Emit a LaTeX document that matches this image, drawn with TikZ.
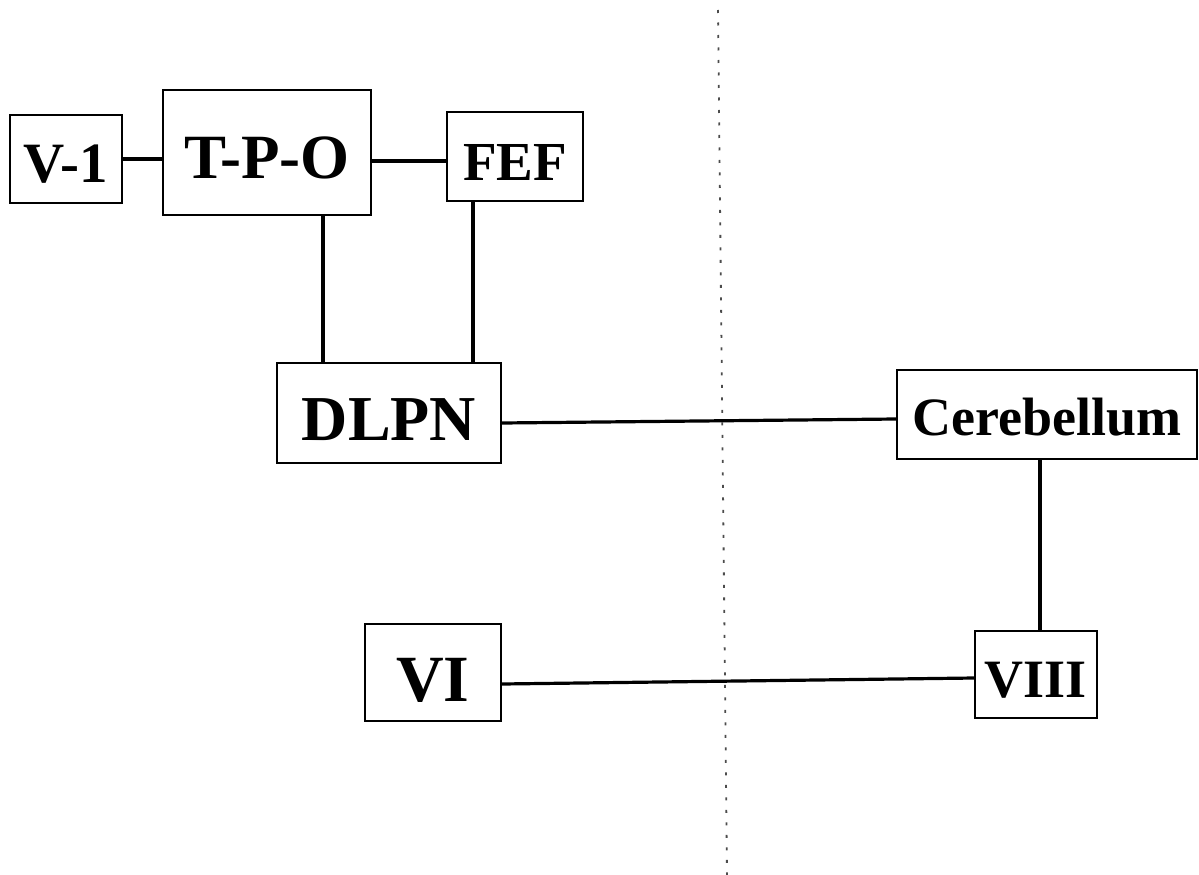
\documentclass[tikz,border=0pt]{standalone}
\usepackage{fontspec}
\setmainfont{Liberation Serif}
\usepackage{tikz}
\usetikzlibrary{calc}

\begin{document}
\begin{tikzpicture}[
  x=1pt, y=-1pt,
  block/.style={rectangle, draw, line width=2pt, inner sep=0pt},
  txt/.style 2 args={font=\bfseries\fontsize{#1}{#1}\selectfont, text height={0.655*#1+2*#2}},
  link/.style={line width=3.2pt},
  midline/.style={line width=1.8pt, black!70, dash pattern=on 3pt off 9.5pt}
]
  \useasboundingbox (0,0) rectangle (1199,875);

  \node[block, minimum width=112, minimum height=88, txt={57}{5}] (v1) at (66,159) {V-1};
  \node[block, minimum width=208, minimum height=125, txt={63}{6}] (tpo) at (267,152) {T-P-O};
  \node[block, minimum width=136, minimum height=89, txt={55}{6}] (fef) at (515,156) {FEF};
  \node[block, minimum width=224, minimum height=100, txt={64}{7}] (dlpn) at (389,413) {DLPN};
  \node[block, minimum width=300, minimum height=89, txt={54}{4}] (cereb) at (1047,414) {Cerebellum};
  \node[block, minimum width=136, minimum height=97, txt={66}{8}] (vi) at (433,672) {VI};
  \node[block, minimum width=122, minimum height=87, txt={54}{6}] (viii) at (1036,674) {VIII};

  % midline
  \draw[midline] (718,10) -- (727,875);

  \draw[link] (v1.east) -- (tpo.west |- v1.east);
  \draw[link] ([yshift=-5pt]fef.west) -- ([yshift=-5pt]tpo.east |- fef.west);
  \draw[link] ([xshift=56pt]tpo.south) -- ([xshift=56pt]tpo.south |- dlpn.north);
  \draw[link] ([xshift=-42pt]fef.south) -- ([xshift=-42pt]fef.south |- dlpn.north);
  \draw[link] ([yshift=-10pt]dlpn.east) -- ([yshift=-5pt]cereb.west);
  \draw[link] ([xshift=-7pt]cereb.south) -- ([xshift=-7pt]cereb.south |- viii.north);
  \draw[link] ([yshift=-12pt]vi.east) -- ([yshift=-4pt]viii.west);
\end{tikzpicture}
\end{document}
